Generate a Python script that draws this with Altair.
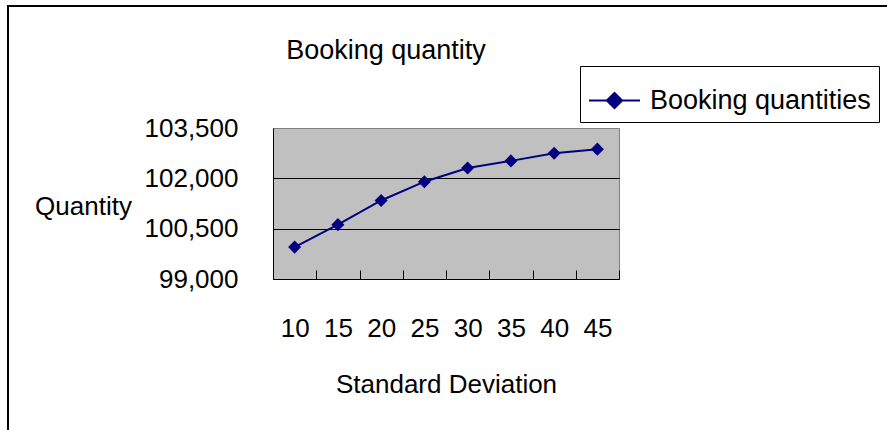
import altair as alt
import pandas as pd

# Booking quantities by standard deviation
std_dev = [10, 15, 20, 25, 30, 35, 40, 45]
quantity = [99950, 100620, 101340, 101900, 102310, 102520, 102750, 102870]
series_name = "Booking quantities"
chart_title = "Booking quantity"
y_ticks = [99000, 100500, 102000, 103500]

df = pd.DataFrame({"sd": std_dev, "qty": quantity, "series": series_name})

FONT = "Liberation Sans"
NAVY = "#000080"
W, H = 346, 151
LEFT, TOP = 273, 128

x_enc = alt.X(
    "sd:O",
    sort=std_dev,
    scale=alt.Scale(paddingInner=0, paddingOuter=0),
    axis=alt.Axis(
        title="Standard Deviation",
        labelAngle=0,
        domain=False,
        ticks=True,
        tickBand="extent",
        tickSize=9,
        tickColor="black",
        offset=-9,
        labelPadding=36,
        labelFontSize=26,
        labelFont=FONT,
        labelColor="black",
        titleFontSize=26,
        titleFont=FONT,
        titleFontWeight="normal",
        titleColor="black",
        titlePadding=30,
        grid=False,
    ),
)

y_enc = alt.Y(
    "qty:Q",
    scale=alt.Scale(domain=[y_ticks[0], y_ticks[-1]], nice=False, zero=False),
    axis=alt.Axis(
        values=y_ticks,
        format=",d",
        title="Quantity",
        titleAngle=0,
        titleAlign="center",
        titleBaseline="middle",
        titleX=-190,
        titleY=78,
        titleFontSize=26,
        titleFont=FONT,
        titleFontWeight="normal",
        titleColor="black",
        labelFontSize=26,
        labelFont=FONT,
        labelColor="black",
        labelPadding=35,
        ticks=False,
        domain=True,
        domainColor="black",
        domainWidth=1,
        grid=True,
        gridColor={
            "condition": {"test": f"datum.value === {y_ticks[-1]}", "value": "#808080"},
            "value": "black",
        },
        gridWidth=1,
    ),
)

legend_symbol = "M-1,0H1M0,-0.3L0.3,0L0,0.3L-0.3,0Z"

line = alt.Chart(df).mark_line(strokeWidth=2).encode(
    x=x_enc,
    y=y_enc,
    color=alt.Color(
        "series:N",
        scale=alt.Scale(range=[NAVY]),
        legend=alt.Legend(
            title=None,
            orient="none",
            legendX=307,
            legendY=-62,
            direction="vertical",
            symbolType=legend_symbol,
            symbolSize=2600,
            symbolStrokeWidth=2,
            symbolFillColor=NAVY,
            symbolStrokeColor=NAVY,
            labelFontSize=27,
            labelFont=FONT,
            labelColor="black",
            labelLimit=400,
            labelOffset=9,
            padding=8,
            strokeColor="black",
            fillColor="white",
        ),
    ),
)

points = alt.Chart(df).mark_point(
    shape="diamond", filled=True, size=170, color=NAVY, opacity=1
).encode(x=x_enc, y=y_enc)

# outer chart frame (left and top edges fall inside the page)
frame = alt.Chart(alt.Data(values=[{}])).mark_rect(
    fill=None, stroke="black", strokeWidth=2
).encode(
    x=alt.value(8 - LEFT),
    y=alt.value(6 - TOP),
    x2=alt.value(887 - LEFT + 60),
    y2=alt.value(430 - TOP + 60),
)

# chart heading
heading = alt.Chart(alt.Data(values=[{}])).mark_text(
    font=FONT, fontSize=27, color="black", align="center", baseline="alphabetic"
).encode(
    text=alt.value(chart_title),
    x=alt.value(386 - LEFT),
    y=alt.value(59 - TOP),
)

chart = (
    alt.layer(frame, line, points, heading)
    .properties(
        width=W,
        height=H,
        autosize=alt.AutoSizeParams(type="none"),
        padding={"left": LEFT, "top": TOP, "right": 887 - LEFT - W, "bottom": 430 - TOP - H},
        background="white",
    )
    .configure_view(fill="#C0C0C0", stroke="#808080", strokeWidth=1)
)

chart.save("out.html", embed_options={"renderer": "svg", "actions": False})
